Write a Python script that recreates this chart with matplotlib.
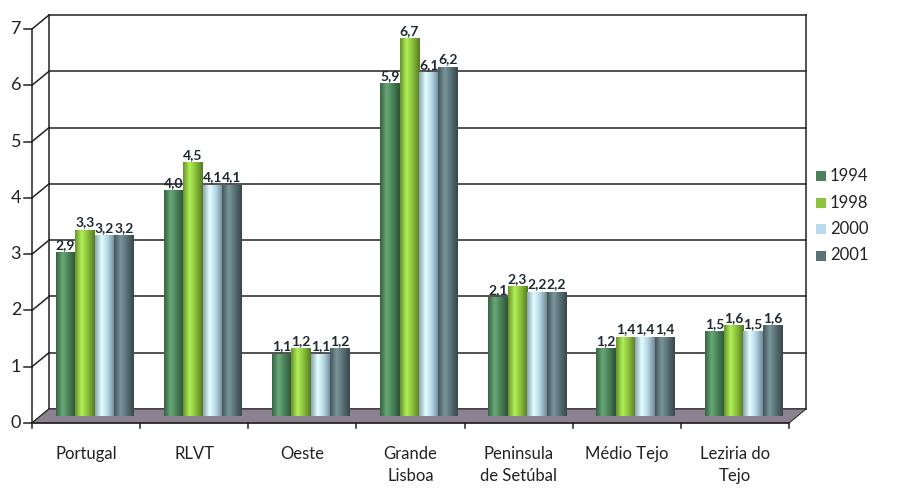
import numpy as np
import matplotlib
matplotlib.use("Agg")
import matplotlib.pyplot as plt
from matplotlib.colors import LinearSegmentedColormap, to_rgb
from matplotlib.patches import Polygon, Rectangle

# data
categories = ["Portugal", "RLVT", "Oeste", "Grande\nLisboa", "Peninsula\nde Setúbal", "Médio Tejo", "Leziria do\nTejo"]
years = ["1994", "1998", "2000", "2001"]
v1994 = [2.9, 4.0, 1.1, 5.9, 2.1, 1.2, 1.5]
v1998 = [3.3, 4.5, 1.2, 6.7, 2.3, 1.4, 1.6]
v2000 = [3.2, 4.1, 1.1, 6.1, 2.2, 1.4, 1.5]
v2001 = [3.2, 4.1, 1.2, 6.2, 2.2, 1.4, 1.6]
series = [v1994, v1998, v2000, v2001]
colors = ["#4a8458", "#8cc43c", "#b9dced", "#5a7379"]
yticks = list(range(8))

plt.rcParams['font.family'] = ['Lato', 'DejaVu Sans']

W, H = 921, 495
fig = plt.figure(figsize=(W / 100, H / 100), dpi=100)
# front plane of the pseudo-3d box
ax = fig.add_axes([32 / W, (H - 423) / H, (789 - 32) / W, (423 - 29) / H])
n = len(categories)
ax.set_xlim(0, n)
ax.set_ylim(0, 7)
ax.axis("off")

dx, dy = 17 / 108, 14 / 56.3  # depth offset in data units
line_kw = dict(color="#222222", lw=1.1, clip_on=False)

# floor
ax.add_patch(Polygon([(0, 0), (n, 0), (n + dx, dy), (dx, dy)], closed=True,
                     facecolor="#8b8190", edgecolor="#333333", lw=0.8, clip_on=False, zorder=1))
# back wall gridlines + left wall connectors
for t in yticks:
    ax.plot([dx, n + dx], [t + dy, t + dy], zorder=0.5, **line_kw)
    ax.plot([0, dx], [t, t + dy], zorder=0.5, **line_kw)
    ax.plot([-0.07, 0], [t, t], zorder=0.5, **line_kw)
    ax.text(-0.1, t, str(t), ha="right", va="center", fontsize=13, color="#222222")
ax.plot([dx, dx], [dy, 7 + dy], zorder=0.5, **line_kw)
ax.plot([0, 0], [0, 7], zorder=0.5, **line_kw)
ax.plot([n + dx, n + dx], [dy, 7 + dy], zorder=0.5, **line_kw)
ax.plot([0, n], [0, 0], zorder=3, **line_kw)
for i in range(n + 1):
    ax.plot([i, i], [0, -0.08], zorder=3, **line_kw)
for i, c in enumerate(categories):
    ax.text(i + 0.5, -0.4, c, ha="center", va="top", fontsize=12, color="#222222", linespacing=1.5)

# cylinders with a simple horizontal shading
w = 0.18
base = dy / 2
grad = np.linspace(0, 1, 64)[None, :]
for j, (vals, col) in enumerate(zip(series, colors)):
    rgb = np.array(to_rgb(col))
    cmap = LinearSegmentedColormap.from_list(
        f"c{j}", [rgb * 0.75, np.minimum(rgb * 1.12 + 0.08, 1), rgb * 0.95, rgb * 0.62])
    for i, v in enumerate(vals):
        xc = i + 0.5 + dx / 2 + (j - 1.5) * w
        ax.imshow(grad, cmap=cmap, aspect="auto", extent=(xc - w / 2, xc + w / 2, base, base + v),
                  zorder=2 + j * 0.01, interpolation="bilinear")
        ax.text(xc, base + v + 0.03, f"{v:.1f}".replace(".", ","), ha="center", va="bottom",
                fontsize=10, fontweight="bold", color="#1e2a30", zorder=5, clip_on=False)
ax.set_xlim(0, n)
ax.set_ylim(0, 7)

# legend
for k, (yr, col) in enumerate(zip(years, colors)):
    yc = 176 + k * 26.5
    fig.add_artist(Rectangle((816 / W, (H - yc - 5) / H), 10 / W, 10 / H,
                             transform=fig.transFigure, facecolor=col, edgecolor="none"))
    fig.text(830 / W, (H - yc) / H, yr, ha="left", va="center", fontsize=12, color="#222222")

fig.savefig("out.png", dpi=100)
